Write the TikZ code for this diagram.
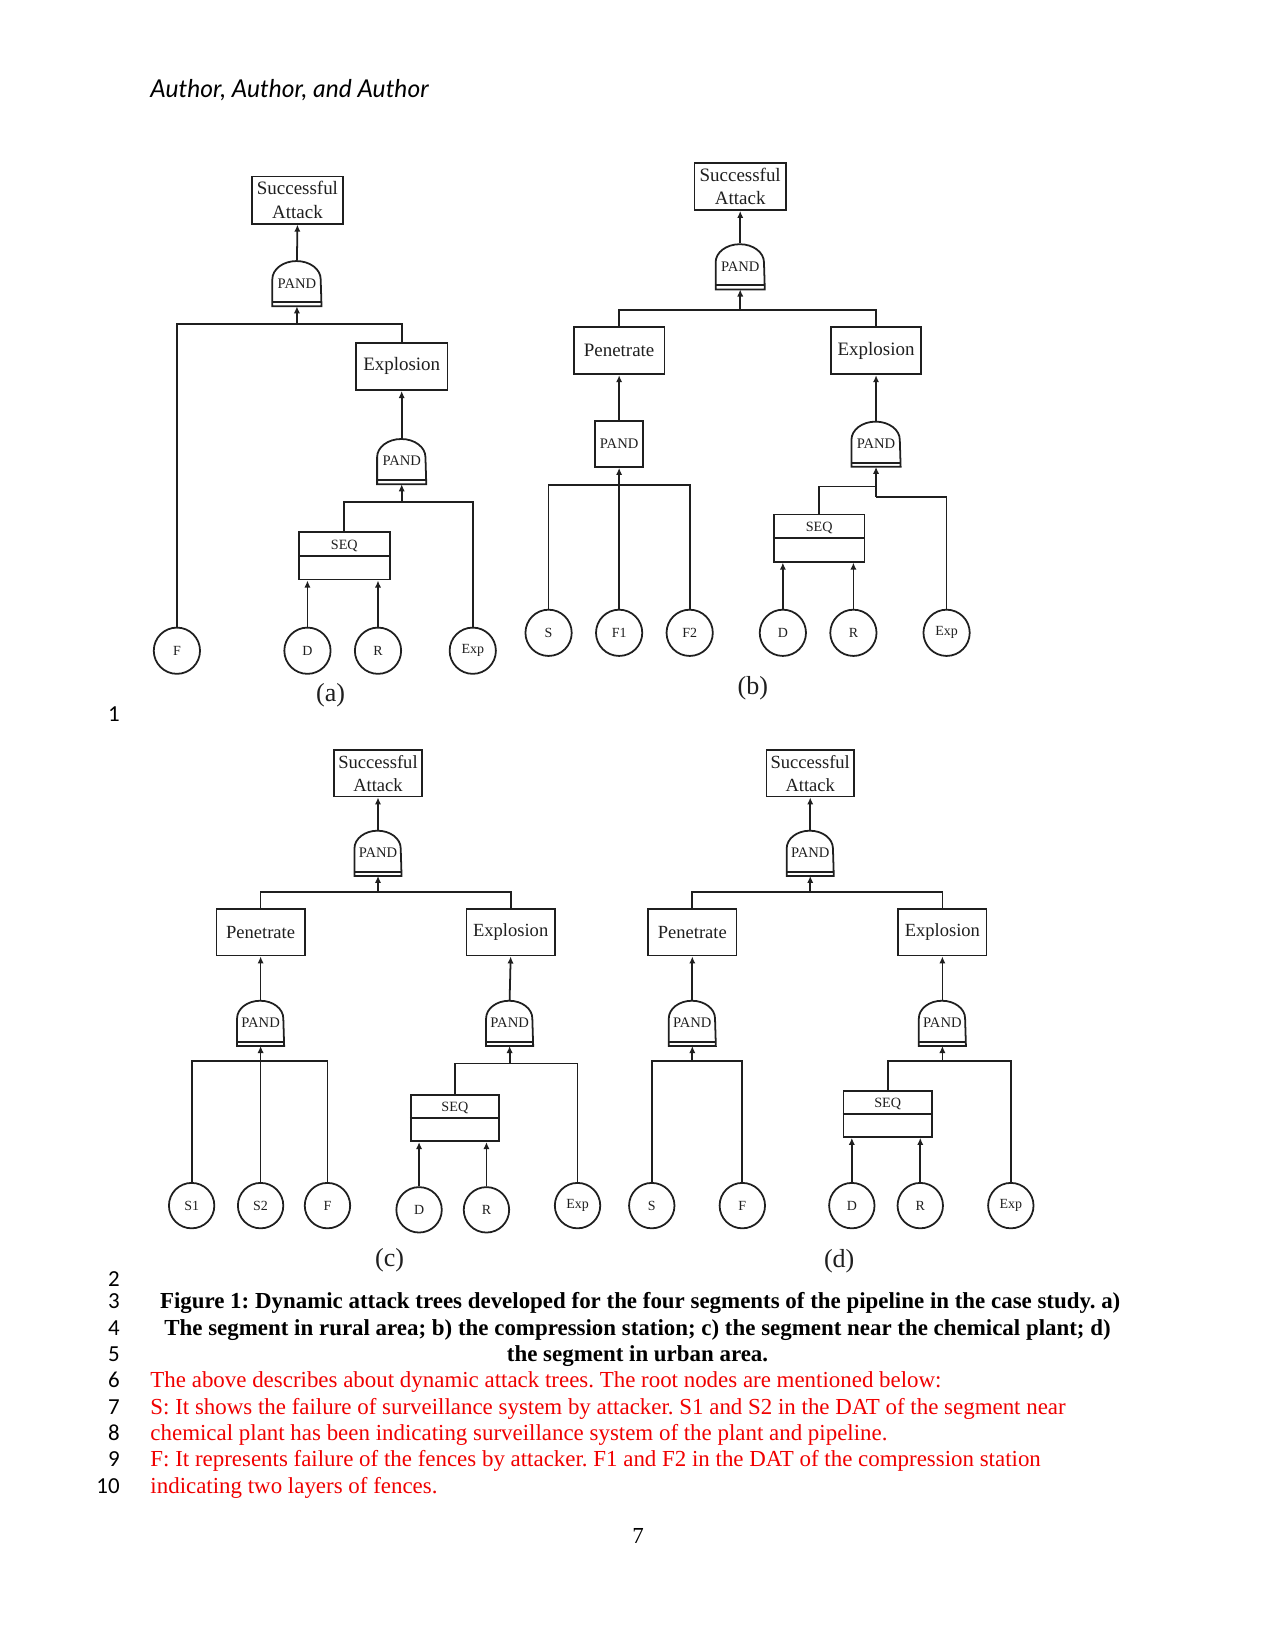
\documentclass[tikz,border=0pt]{standalone}
\usepackage{fontspec}
\setmainfont{Liberation Serif}
\newfontfamily\numfont{Carlito}
\newfontfamily\authfont{Lato}
\usetikzlibrary{arrows.meta}
\definecolor{ink}{gray}{0.12}
\definecolor{redtext}{RGB}{240,0,0}
\frenchspacing

\def\GW{23.2pt}\def\GH{21.7pt}\def\GR{11.6pt}\def\GYR{8.7pt}\def\GS{13pt}
\def\SAW{44pt}\def\SAH{22.7pt}\def\BW{44pt}\def\BH{22.7pt}
\def\SW{43.5pt}\def\SH{22.7pt}\def\CD{22.2pt}\def\BF{9.1}

\tikzset{
  ln/.style={draw=ink, line width=0.85pt},
  arr/.style={ln, -{Latex[length=3.4pt,width=3pt]}},
  evbox/.style={draw=ink, line width=0.85pt, inner sep=0pt, align=center, text=ink,
    minimum width=\BW, minimum height=\BH, font=\fontsize{\BF}{11.3}\selectfont},
  sabox/.style={evbox, minimum width=\SAW, minimum height=\SAH},
  gatebox/.style={inner sep=0pt, minimum width=\GW, minimum height=\GH, text=ink,
    font=\fontsize{7}{8}\selectfont},
  pandrect/.style={draw=ink, line width=0.85pt, inner sep=0pt, minimum width=\GW,
    minimum height=22.2pt, text=ink, font=\fontsize{7}{8}\selectfont},
  seqbox/.style={draw=ink, line width=0.85pt, inner sep=0pt, minimum width=\SW,
    minimum height=\SH, text=ink, font=\fontsize{6.8}{8}\selectfont,
    text height=4.5pt, text depth=11pt},
  circ/.style={draw=ink, line width=0.85pt, circle, inner sep=0pt, minimum size=\CD,
    text=ink, font=\fontsize{6.7}{7}\selectfont},
  sublab/.style={inner sep=0pt, text=ink, font=\fontsize{12.5}{13}\selectfont},
  bodyline/.style={anchor=base west, inner sep=0pt, text=redtext, font=\fontsize{11}{12.65}\selectfont},
  capline/.style={anchor=base, inner sep=0pt, font=\bfseries\fontsize{11}{12.65}\selectfont},
  lnum/.style={anchor=base east, inner sep=0pt, font=\numfont\fontsize{11}{13}\selectfont},
}

\newcommand\pandg[2]{%
  \node[gatebox] (#1) at (#2) {PAND};
  \draw[ln] (#1.south west) -- ++(0pt,\GS)
    arc[start angle=180, end angle=0, x radius=\GR, y radius=\GYR]
    -- (#1.south east) -- cycle;
  \draw[ln] ([yshift=2pt]#1.south west) -- ([yshift=2pt]#1.south east);
}
\newcommand\seqnode[2]{%
  \node[seqbox] (#1) at (#2) {SEQ};
  \draw[ln] (#1.west) -- (#1.east);
}

\begin{document}
\begin{tikzpicture}[x=0.50537pt,y=-0.50537pt]
\path[use as bounding box] (0,0) rectangle (1211,1568);

% header
\node[anchor=base west, inner sep=0pt, font=\authfont\itshape\fontsize{11.8}{14}\selectfont] (auth) at (142.5,92.5) {Author, Author, and Author};

% ================= tree (a)
\node[sabox] (saA) at (282.5,190) {Successful\\Attack};
\pandg{gA}{282,269}
\coordinate (bA) at (282,308);
\node[evbox] (exA) at (381.5,348) {Explosion};
\pandg{gA2}{381.5,438}
\coordinate (bA2) at (381.5,477);
\seqnode{seqA}{327,528}
\node[circ] (aF) at (168,618) {F};
\node[circ] (aD) at (292,618) {D};
\node[circ] (aR) at (359,618) {R};
\node[circ] (aE) at (449,618) {Exp};
\node[sublab] (labA) at (314,660) {(a)};
\draw[arr] (gA.north) -- (saA.south);
\draw[arr] (bA) -- (gA.south);
\draw[ln] (aF.north) |- (bA) -| (exA.north);
\draw[arr] (gA2.north) -- (exA.south);
\draw[arr] (bA2) -- (gA2.south);
\draw[ln] (seqA.north) |- (bA2) -| (aE.north);
\draw[arr] (aD.north) -- (aD.north |- seqA.south);
\draw[arr] (aR.north) -- (aR.north |- seqA.south);

% ================= tree (b)
\node[sabox] (saB) at (703,177) {Successful\\Attack};
\pandg{gB}{703,253}
\coordinate (bB) at (703,294.5);
\def\BW{43.5pt}
\node[evbox] (penB) at (588,333) {Penetrate};
\node[evbox] (exB) at (832,333) {Explosion};
\node[pandrect] (pgB) at (588,421.5) {PAND};
\pandg{gB2}{832,421.5}
\coordinate (bBp) at (588,460.5);
\coordinate (bBl) at (832,462);
\coordinate (bBr) at (832,472);
\seqnode{seqB}{778,511}
\node[circ] (bS) at (521,601) {S};
\node[circ] (bF1) at (588,601) {F1};
\node[circ] (bF2) at (655,601) {F2};
\node[circ] (bD) at (743.5,601) {D};
\node[circ] (bR) at (810.5,601) {R};
\node[circ] (bE) at (899,601) {Exp};
\node[sublab] (labB) at (715,654) {(b)};
\draw[arr] (gB.north) -- (saB.south);
\draw[arr] (bB) -- (gB.south);
\draw[ln] (penB.north) |- (bB) -| (exB.north);
\draw[arr] (pgB.north) -- (penB.south);
\draw[arr] (bF1.north) -- (pgB.south);
\draw[ln] (bS.north) |- (bBp) -| (bF2.north);
\draw[arr] (gB2.north) -- (exB.south);
\draw[arr] (bBr) -- (gB2.south);
\draw[ln] (seqB.north) |- (bBl);
\draw[ln] (bE.north) |- (bBr);
\draw[arr] (bD.north) -- (bD.north |- seqB.south);
\draw[arr] (bR.north) -- (bR.north |- seqB.south);

% ================= smaller size for (c),(d)
\def\GW{22.2pt}\def\GH{21.7pt}\def\GR{11.1pt}\def\GYR{8.5pt}\def\GS{13.2pt}
\def\SAW{42pt}\def\SAH{22.2pt}\def\BW{42.4pt}\def\BH{22.2pt}
\def\SW{42.4pt}\def\SH{22pt}\def\CD{21.8pt}\def\BF{8.9}

% ================= tree (c)
\node[sabox] (saC) at (359,734.5) {Successful\\Attack};
\pandg{gC}{359,810}
\coordinate (bC) at (359,847);
\node[evbox] (penC) at (247.5,885.5) {Penetrate};
\node[evbox] (exC) at (485,885.5) {Explosion};
\pandg{pgC}{247.5,971.5}
\pandg{gC2}{484,971.5}
\coordinate (bCp) at (247.5,1008);
\coordinate (bCe) at (484,1010);
\seqnode{seqC}{432,1062}
\node[circ] (cS1) at (182,1145) {S1};
\node[circ] (cS2) at (247.5,1145) {S2};
\node[circ] (cF) at (311,1145) {F};
\node[circ] (cD) at (398,1149) {D};
\node[circ] (cR) at (462,1149) {R};
\node[circ] (cE) at (548.5,1145) {Exp};
\node[sublab] (labC) at (370,1197) {(c)};
\draw[arr] (gC.north) -- (saC.south);
\draw[arr] (bC) -- (gC.south);
\draw[ln] (penC.north) |- (bC) -| (exC.north);
\draw[arr] (pgC.north) -- (penC.south);
\draw[arr] (cS2.north) -- (pgC.south);
\draw[ln] (cS1.north) |- (bCp) -| (cF.north);
\draw[arr] (gC2.north) -- (exC.south);
\draw[arr] (bCe) -- (gC2.south);
\draw[ln] (seqC.north) |- (bCe) -| (cE.north);
\draw[arr] (cD.north) -- (cD.north |- seqC.south);
\draw[arr] (cR.north) -- (cR.north |- seqC.south);

% ================= tree (d)
\node[sabox] (saD) at (769.5,734.5) {Successful\\Attack};
\pandg{gD}{769.5,810}
\coordinate (bD) at (769.5,847);
\node[evbox] (penD) at (657.5,885.5) {Penetrate};
\node[evbox] (exD) at (895,885.5) {Explosion};
\pandg{pgD}{657.5,971.5}
\pandg{gD2}{895,971.5}
\coordinate (bDp) at (657.5,1008);
\coordinate (bDe) at (895,1008);
\seqnode{seqD}{843,1058}
\node[circ] (dS) at (619,1145) {S};
\node[circ] (dF) at (705,1145) {F};
\node[circ] (dD) at (809,1145) {D};
\node[circ] (dR) at (874,1145) {R};
\node[circ] (dE) at (960,1145) {Exp};
\node[sublab] (labD) at (797,1198) {(d)};
\draw[arr] (gD.north) -- (saD.south);
\draw[arr] (bD) -- (gD.south);
\draw[ln] (penD.north) |- (bD) -| (exD.north);
\draw[arr] (pgD.north) -- (penD.south);
\draw[arr] (bDp) -- (pgD.south);
\draw[ln] (dS.north) |- (bDp) -| (dF.north);
\draw[arr] (gD2.north) -- (exD.south);
\draw[arr] (bDe) -- (gD2.south);
\draw[ln] (seqD.north) |- (bDe) -| (dE.north);
\draw[arr] (dD.north) -- (dD.north |- seqD.south);
\draw[arr] (dR.north) -- (dR.north |- seqD.south);

% ================= line numbers
\node[lnum] (n1) at (114,685) {1};
\node[lnum] (n2) at (114,1222) {2};
\node[lnum] (n3) at (114,1243) {3};
\node[lnum] (n4) at (114,1268) {4};
\node[lnum] (n5) at (114,1293) {5};
\node[lnum] (n6) at (114,1318) {6};
\node[lnum] (n7) at (114,1343) {7};
\node[lnum] (n8) at (114,1368) {8};
\node[lnum] (n9) at (114,1393) {9};
\node[lnum] (n10) at (114,1418) {10};

% ================= caption
\node[capline] (cap1) at (608,1243) {Figure 1: Dynamic attack trees developed for the four segments of the pipeline in the case study. a)};
\node[capline] (cap2) at (605.5,1268) {The segment in rural area; b) the compression station; c) the segment near the chemical plant; d)};
\node[capline] (cap3) at (605.5,1293) {the segment in urban area.};

% ================= red text
\node[bodyline] (t1) at (142.5,1318) {The above describes about dynamic attack trees. The root nodes are mentioned below:};
\node[bodyline] (t2) at (142.5,1343) {S: It shows the failure of surveillance system by attacker. S1 and S2 in the DAT of the segment near};
\node[bodyline] (t3) at (142.5,1368) {chemical plant has been indicating surveillance system of the plant and pipeline.};
\node[bodyline] (t4) at (142.5,1393) {F: It represents failure of the fences by attacker. F1 and F2 in the DAT of the compression station};
\node[bodyline] (t5) at (142.5,1418) {indicating two layers of fences.};

% page number
\node[anchor=base, inner sep=0pt, font=\fontsize{11}{13}\selectfont] (pg) at (606,1466) {7};
\end{tikzpicture}
\end{document}
